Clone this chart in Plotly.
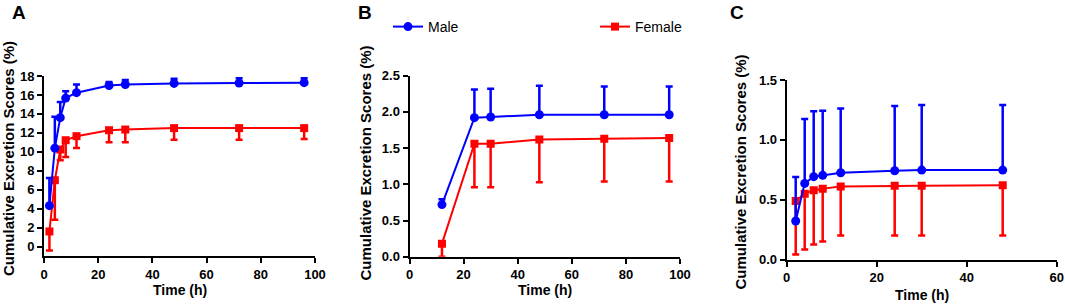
import plotly.graph_objects as go

# ---------------- data ----------------
# Panel A
a_time = [2, 4, 6, 8, 12, 24, 30, 48, 72, 96]
a_male = [4.31, 10.38, 13.6, 15.67, 16.24, 17.0, 17.1, 17.22, 17.26, 17.3]
a_male_upper = [7.24, 13.7, 15.25, 16.4, 17.1, 17.37, 17.58, 17.72, 17.75, 17.75]
a_female = [1.59, 7.0, 10.24, 11.22, 11.65, 12.28, 12.35, 12.5, 12.5, 12.5]
a_female_lower = [-0.42, 2.82, 9.1, 9.46, 10.4, 11.0, 11.0, 11.27, 11.27, 11.34]

# Panel B
b_time = [12, 24, 30, 48, 72, 96]
b_male = [0.72, 1.92, 1.93, 1.96, 1.96, 1.96]
b_male_upper = [0.795, 2.31, 2.32, 2.36, 2.35, 2.35]
b_female = [0.18, 1.56, 1.56, 1.62, 1.63, 1.64]
b_female_lower = [0.0, 0.96, 0.96, 1.03, 1.04, 1.04]

# Panel C
c_time = [2, 4, 6, 8, 12, 24, 30, 48]
c_male = [0.322, 0.636, 0.692, 0.703, 0.725, 0.742, 0.747, 0.747]
c_male_upper = [0.689, 1.175, 1.239, 1.244, 1.261, 1.283, 1.292, 1.292]
c_female = [0.489, 0.55, 0.578, 0.592, 0.611, 0.617, 0.617, 0.62]
c_female_lower = [0.042, 0.083, 0.125, 0.15, 0.2, 0.2, 0.2, 0.2]

panel_letters = ["A", "B", "C"]
series_names = ["Male", "Female"]
y_title = "Cumulative Excretion Scores (%)"
x_title = "Time (h)"

BLUE = "#0000FF"
RED = "#FF0000"
FONT = "Liberation Sans"

fig = go.Figure()

panels = [
    (a_time, a_male, a_male_upper, a_female, a_female_lower, "x", "y"),
    (b_time, b_male, b_male_upper, b_female, b_female_lower, "x2", "y2"),
    (c_time, c_male, c_male_upper, c_female, c_female_lower, "x3", "y3"),
]

for i, (t, m, mu, f, fl, xa, ya) in enumerate(panels):
    show = (i == 1)
    fig.add_trace(go.Scatter(
        x=t, y=f, xaxis=xa, yaxis=ya, mode="lines+markers",
        name=series_names[1], showlegend=show, legend="legend2",
        line=dict(color=RED, width=2),
        marker=dict(symbol="square", size=8, color=RED),
        error_y=dict(type="data", symmetric=False,
                     array=[0] * len(f),
                     arrayminus=[fv - lv for fv, lv in zip(f, fl)],
                     color=RED, thickness=2.5, width=3.5),
    ))
    fig.add_trace(go.Scatter(
        x=t, y=m, xaxis=xa, yaxis=ya, mode="lines+markers",
        name=series_names[0], showlegend=show, legend="legend",
        line=dict(color=BLUE, width=2),
        marker=dict(symbol="circle", size=9, color=BLUE),
        error_y=dict(type="data", symmetric=False,
                     array=[uv - mv for mv, uv in zip(m, mu)],
                     arrayminus=[0] * len(m),
                     color=BLUE, thickness=2.5, width=3.5),
    ))

W, H = 1065, 304

def px_x(p):
    return p / W

def px_y(p):
    return 1 - p / H

tick_font = dict(family=FONT, size=13, color="black", weight="bold")
axis_common = dict(
    showline=True, linecolor="black", linewidth=2,
    ticks="outside", ticklen=5, tickwidth=2, tickcolor="black",
    showgrid=False, zeroline=False, automargin=False,
    tickfont=tick_font,
)

fig.update_layout(
    width=W, height=H,
    margin=dict(l=0, r=0, t=0, b=0, autoexpand=False),
    paper_bgcolor="white", plot_bgcolor="white",
    xaxis=dict(domain=[px_x(44), px_x(315)], range=[0, 100], tickvals=[0, 20, 40, 60, 80, 100],
               anchor="y", **axis_common),
    yaxis=dict(domain=[px_y(256), px_y(76)], range=[-1, 18], tickvals=list(range(0, 19, 2)),
               anchor="x", **axis_common),
    xaxis2=dict(domain=[px_x(409.5), px_x(680)], range=[0, 100], tickvals=[0, 20, 40, 60, 80, 100],
                anchor="y2", **axis_common),
    yaxis2=dict(domain=[px_y(256.7), px_y(75.7)], range=[0, 2.5], tickvals=[0, 0.5, 1, 1.5, 2, 2.5],
                tickformat=".1f", anchor="x2", **axis_common),
    xaxis3=dict(domain=[px_x(786.7), px_x(1056.7)], range=[0, 60], tickvals=[0, 20, 40, 60],
                anchor="y3", **axis_common),
    yaxis3=dict(domain=[px_y(259.5), px_y(80)], range=[0, 1.5], tickvals=[0, 0.5, 1, 1.5],
                tickformat=".1f", anchor="x3", **axis_common),
    legend=dict(x=px_x(388), y=px_y(27), xanchor="left", yanchor="middle",
                orientation="h", bgcolor="rgba(0,0,0,0)",
                font=dict(family=FONT, size=14, color="black")),
    legend2=dict(x=px_x(595), y=px_y(27), xanchor="left", yanchor="middle",
                 orientation="h", bgcolor="rgba(0,0,0,0)",
                 font=dict(family=FONT, size=14, color="black")),
)

annotations = []
# panel letters
for letter, xp in zip(panel_letters, [19, 365, 737]):
    annotations.append(dict(text=letter, x=px_x(xp), y=px_y(12), xref="paper", yref="paper",
                            xanchor="center", yanchor="middle", showarrow=False,
                            font=dict(family=FONT, size=19, color="black", weight="bold")))
# y titles
for xp, yp in [(8.5, 158.5), (364.5, 163), (739.5, 172)]:
    annotations.append(dict(text=y_title, textangle=-90, x=px_x(xp), y=px_y(yp),
                            xref="paper", yref="paper", xanchor="center", yanchor="middle",
                            showarrow=False,
                            font=dict(family=FONT, size=15, color="black", weight="bold")))
# x titles
for xp, yp in [(180, 290), (545, 290), (922, 295)]:
    annotations.append(dict(text=x_title, x=px_x(xp), y=px_y(yp),
                            xref="paper", yref="paper", xanchor="center", yanchor="middle",
                            showarrow=False,
                            font=dict(family=FONT, size=14, color="black", weight="bold")))
fig.update_layout(annotations=annotations)

fig.write_html("out.html", config={"displayModeBar": False},
               post_script="document.body.style.margin='0px';document.body.style.overflow='hidden';")
